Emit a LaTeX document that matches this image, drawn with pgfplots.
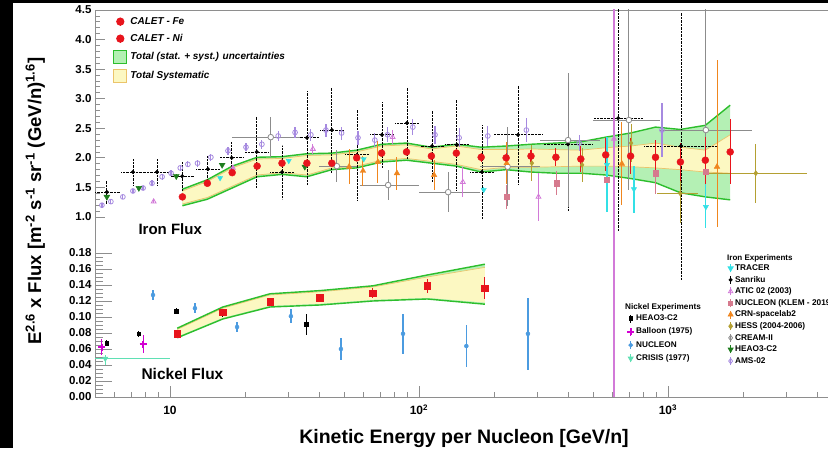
\documentclass[border=0pt]{standalone}
\usepackage{pgfplots}
\pgfplotsset{compat=1.18}
\usepackage{fontspec}
\setmainfont{Liberation Sans}
\definecolor{calred}{HTML}{E8141C}
\definecolor{gfill}{HTML}{B4F0B4}
\definecolor{gline}{HTML}{2DBE2D}
\definecolor{yfill}{HTML}{FCF8C2}
\definecolor{yline}{HTML}{EBC46A}
\definecolor{tracer}{HTML}{33E0E6}
\definecolor{atic}{HTML}{D27AD8}
\definecolor{klem}{HTML}{D67A8E}
\definecolor{crn}{HTML}{F0861E}
\definecolor{hess}{HTML}{B4A032}
\definecolor{cream}{HTML}{8C8C8C}
\definecolor{heao}{HTML}{1E7D1E}
\definecolor{ams}{HTML}{A68AE0}
\definecolor{balloon}{HTML}{D200D2}
\definecolor{nucni}{HTML}{4B9BE0}
\definecolor{crisis}{HTML}{5FE0B4}
\definecolor{framegray}{HTML}{8E8E8E}
\pgfplotsset{
  barleg/.style={legend image code/.code={\draw[##1,mark=none,solid] (0pt,-4pt) -- (0pt,4pt); \draw[##1,solid] plot coordinates {(0pt,0pt)};}},
  boxleg/.style={legend image code/.code={\draw[##1] (-6.5pt,-6.5pt) rectangle (6.5pt,6.5pt);}},
}
\begin{document}
\begin{tikzpicture}[x=1pt,y=1pt]
\fill[white] (0,0) rectangle (828,448);
\path[use as bounding box] (0,0) rectangle (828,448);
\clip (0,0) rectangle (828,448);
\fill[black] (0,0) rectangle (13,448);
\fill[black] (0,444.7) rectangle (828,448);

% ---------- frame, x ticks, CALET legend
\begin{axis}[at={(95pt,51pt)}, anchor=south west, scale only axis, width=747pt, height=387pt,
  xmode=log, xmin=5, xmax=5000, ymin=0, ymax=1, ytick=\empty,
  xtick={10,100,1000}, xticklabels={10,10\textsuperscript{2},10\textsuperscript{3}},
  minor xtick={6,7,8,9,20,30,40,50,60,70,80,90,200,300,400,500,600,700,800,900,2000,3000,4000},
  xtick pos=left, major tick length=11pt, minor tick length=5.5pt,
  tick style={framegray, line width=0.8pt},
  axis line style={framegray, line width=0.8pt},
  xticklabel style={font=\bfseries\fontsize{12}{12}\selectfont, anchor=base, yshift=-17.5pt},
  legend style={at={(0.0241,0.986)}, anchor=north west, draw=none, fill=none, inner sep=0pt,
    row sep=5pt, column sep=2pt, font=\bfseries\itshape\fontsize{10}{12}\selectfont,
    nodes={inner sep=1pt, text height=7.5pt, text depth=2.5pt}},
  legend cell align=left]
\addplot[draw=none, forget plot] coordinates {(10,0.5)};
\addlegendimage{calred, mark=*, mark size=3.5pt, line width=1.2pt, barleg}
\addlegendentry{CALET - Fe}
\addlegendimage{calred, mark=*, mark size=3.5pt, line width=1.2pt, barleg}
\addlegendentry{CALET - Ni}
\addlegendimage{boxleg, fill=gfill, draw=gline, line width=1.2pt}
\addlegendentry{Total (stat. + syst.) uncertainties}
\addlegendimage{boxleg, fill=yfill, draw=yline, line width=0.8pt}
\addlegendentry{Total Systematic}
\end{axis}

% ---------- upper panel: iron
\begin{axis}[at={(95pt,51pt)}, anchor=south west, scale only axis, width=747pt, height=387pt,
  xmode=log, xmin=5, xmax=5000, ymin=-2.0436, ymax=4.5, xtick=\empty, axis line style={draw=none},
  ytick={1,1.5,2,2.5,3,3.5,4,4.5}, minor y tick num=4, ytick pos=left,
  major tick length=10pt, minor tick length=5pt, tick style={framegray, line width=0.8pt},
  /pgf/number format/assume math mode=true,
  yticklabel style={font=\bfseries\fontsize{11.5}{12}\selectfont, /pgf/number format/.cd, fixed, fixed zerofill, precision=1},
  legend style={at={(0.8474,0.3457)}, anchor=north west, draw=none, fill=none, inner sep=0pt,
    row sep=1.9pt, column sep=1pt, font=\bfseries\fontsize{8.3}{9}\selectfont,
    nodes={inner sep=1pt, text height=6pt, text depth=1.7pt}},
  legend cell align=left]
\addlegendimage{tracer, mark=triangle*, mark size=2.8pt, mark options={rotate=180}, line width=1pt, barleg}
\addlegendentry{TRACER}
\addlegendimage{black, mark=*, mark size=1.6pt, line width=0.8pt, barleg}
\addlegendentry{Sanriku}
\addlegendimage{atic, mark=triangle, mark size=2.6pt, line width=0.8pt, barleg}
\addlegendentry{ATIC 02 (2003)}
\addlegendimage{klem, mark=square*, mark size=2pt, line width=0.8pt, barleg}
\addlegendentry{NUCLEON (KLEM - 2019)}
\addlegendimage{crn, mark=triangle*, mark size=2.8pt, line width=0.8pt, barleg}
\addlegendentry{CRN-spacelab2}
\addlegendimage{hess, mark=diamond*, mark size=2.5pt, line width=0.8pt, barleg}
\addlegendentry{HESS (2004-2006)}
\addlegendimage{cream, mark=diamond, mark size=2.6pt, line width=0.8pt, barleg}
\addlegendentry{CREAM-II}
\addlegendimage{heao, mark=triangle*, mark size=2.8pt, mark options={rotate=180}, line width=0.8pt, barleg}
\addlegendentry{HEAO3-C2}
\addlegendimage{ams, mark=diamond, mark size=2.6pt, line width=0.8pt, barleg}
\addlegendentry{AMS-02}

% total uncertainty band
\addplot[fill=gfill, draw=none] coordinates {(11.22,1.47)(14.13,1.63)(17.78,1.86)(22.39,2.01)(28.18,2.02)(35.48,2.07)(44.67,2.08)(56.23,2.13)(70.79,2.23)(89.13,2.25)(112.2,2.18)(141.3,2.23)(177.8,2.18)(223.9,2.20)(281.8,2.23)(354.8,2.25)(446.7,2.27)(562.3,2.35)(707.9,2.42)(891.3,2.52)(1122,2.48)(1413,2.55)(1778,2.89)
 (1778,1.29)(1413,1.34)(1122,1.41)(891.3,1.58)(707.9,1.65)(562.3,1.71)(446.7,1.74)(354.8,1.74)(281.8,1.76)(223.9,1.80)(177.8,1.76)(141.3,1.86)(112.2,1.91)(89.13,1.96)(70.79,1.93)(56.23,1.83)(44.67,1.80)(35.48,1.68)(28.18,1.72)(22.39,1.68)(17.78,1.49)(14.13,1.30)(11.22,1.19)};
\addplot[fill=yfill, draw=none] coordinates {(11.22,1.44)(14.13,1.60)(17.78,1.83)(22.39,1.98)(28.18,1.99)(35.48,2.04)(44.67,2.05)(56.23,2.10)(70.79,2.20)(89.13,2.22)(112.2,2.15)(141.3,2.20)(177.8,2.14)(223.9,2.14)(281.8,2.15)(354.8,2.14)(446.7,2.13)(562.3,2.17)(707.9,2.20)(891.3,2.25)(1122,2.18)(1413,2.13)(1778,2.39)
 (1778,1.74)(1413,1.76)(1122,1.80)(891.3,1.83)(707.9,1.85)(562.3,1.86)(446.7,1.86)(354.8,1.85)(281.8,1.84)(223.9,1.84)(177.8,1.80)(141.3,1.89)(112.2,1.94)(89.13,1.99)(70.79,1.96)(56.23,1.86)(44.67,1.83)(35.48,1.71)(28.18,1.75)(22.39,1.71)(17.78,1.52)(14.13,1.33)(11.22,1.22)};
\addplot[yline, line width=0.7pt] coordinates {(11.22,1.44)(14.13,1.60)(17.78,1.83)(22.39,1.98)(28.18,1.99)(35.48,2.04)(44.67,2.05)(56.23,2.10)(70.79,2.20)(89.13,2.22)(112.2,2.15)(141.3,2.20)(177.8,2.14)(223.9,2.14)(281.8,2.15)(354.8,2.14)(446.7,2.13)(562.3,2.17)(707.9,2.20)(891.3,2.25)(1122,2.18)(1413,2.13)(1778,2.39)};
\addplot[yline, line width=0.7pt] coordinates {(11.22,1.22)(14.13,1.33)(17.78,1.52)(22.39,1.71)(28.18,1.75)(35.48,1.71)(44.67,1.83)(56.23,1.86)(70.79,1.96)(89.13,1.99)(112.2,1.94)(141.3,1.89)(177.8,1.80)(223.9,1.84)(281.8,1.84)(354.8,1.85)(446.7,1.86)(562.3,1.86)(707.9,1.85)(891.3,1.83)(1122,1.80)(1413,1.76)(1778,1.74)};
\addplot[gline, line width=1.4pt] coordinates {(11.22,1.47)(14.13,1.63)(17.78,1.86)(22.39,2.01)(28.18,2.02)(35.48,2.07)(44.67,2.08)(56.23,2.13)(70.79,2.23)(89.13,2.25)(112.2,2.18)(141.3,2.23)(177.8,2.18)(223.9,2.20)(281.8,2.23)(354.8,2.25)(446.7,2.27)(562.3,2.35)(707.9,2.42)(891.3,2.52)(1122,2.48)(1413,2.55)(1778,2.89)};
\addplot[gline, line width=1.4pt] coordinates {(11.22,1.19)(14.13,1.30)(17.78,1.49)(22.39,1.68)(28.18,1.72)(35.48,1.68)(44.67,1.80)(56.23,1.83)(70.79,1.93)(89.13,1.96)(112.2,1.91)(141.3,1.86)(177.8,1.76)(223.9,1.80)(281.8,1.76)(354.8,1.74)(446.7,1.74)(562.3,1.71)(707.9,1.65)(891.3,1.58)(1122,1.41)(1413,1.34)(1778,1.29)};

% Sanriku
\addplot[only marks, black, mark=*, mark size=1.8pt, error bars/.cd, y dir=both, y explicit, x dir=both, x explicit, error mark=none, error bar style={black, densely dotted, line width=0.8pt}] coordinates {
(5.58,1.42) += (0.72,0.21) -= (0.58,0.21)
(7.1,1.76) += (0.87,0.23) -= (0.77,0.23)
(8.87,1.76) += (1.08,0.23) -= (0.97,0.23)
(11.2,1.69) += (1.37,0.24) -= (1.22,0.24)
(14.2,1.81) += (1.73,0.22) -= (1.55,0.22)
(17.7,2.00) += (2.16,0.27) -= (1.93,0.27)
(22.3,2.10) += (2.72,0.60) -= (2.43,0.60)
(28.2,1.76) += (3.44,0.45) -= (3.07,0.45)
(35.5,2.34) += (4.33,0.80) -= (3.87,0.80)
(44.7,2.47) += (5.45,0.72) -= (4.87,0.72)
(56.4,2.05) += (6.88,0.78) -= (6.15,0.78)
(71,2.39) += (8.66,0.55) -= (7.74,0.55)
(89.5,2.59) += (10.9,0.60) -= (9.76,0.60)
(113,2.20) += (13.8,0.60) -= (12.3,0.60)
(142,2.22) += (17.3,0.76) -= (15.5,0.76)
(179,1.76) += (21.8,0.80) -= (19.5,0.80)
(250,2.39) += (64.8,0.83) -= (51.5,0.83)
(397,2.23) += (103,1.13) -= (82,1.13)
(631,2.67) += (163,1.90) -= (130,1.90)
(1128,2.20) += (466,2.25) -= (329,2.25)};

% CREAM-II
\addplot[only marks, cream, mark=*, mark size=2.8pt, mark options={fill=white, draw=cream, line width=0.8pt}, error bars/.cd, y dir=both, y explicit, x dir=both, x explicit, error mark=none, error bar style={cream, line width=0.9pt}] coordinates {
(25.4,2.35) += (7.9,0.34) -= (7.7,0.34)
(46.8,1.86) += (9.6,0.27) -= (7.1,0.27)
(75.2,1.54) += (24.8,0.25) -= (17.3,0.25)
(131,1.42) += (45,0.34) -= (31,0.34)
(227,1.85) += (80,0.67) -= (51,0.67)
(397,2.30) += (138,1.13) -= (90,1.13)
(697,2.64) += (233,1.90) -= (197,1.18)
(1420,2.47) += (760,2.10) -= (490,1.30)};

% AMS-02
\addplot[only marks, ams, mark=o, mark size=2.4pt, mark options={line width=0.8pt}, error bars/.cd, y dir=both, y explicit, error mark=none, error bar style={ams, line width=1.2pt}] coordinates {
(5.33,1.20) +- (0,0.04) (5.79,1.26) +- (0,0.04) (6.47,1.34) +- (0,0.04) (7.1,1.44) +- (0,0.04)
(7.8,1.49) +- (0,0.04) (8.47,1.57) +- (0,0.05) (9.3,1.68) +- (0,0.05) (10.1,1.74) +- (0,0.05)
(11.0,1.83) +- (0,0.05) (11.8,1.89) +- (0,0.05) (12.9,1.91) +- (0,0.06) (14.6,2.01) +- (0,0.06)
(17.1,2.12) +- (0,0.07) (20.2,2.18) +- (0,0.07) (23.4,2.23) +- (0,0.08) (27.2,2.37) +- (0,0.09)
(31.8,2.43) +- (0,0.10) (36.8,2.39) +- (0,0.10) (42.3,2.47) +- (0,0.11) (48.9,2.42) +- (0,0.11)
(56.9,2.34) +- (0,0.12) (66.5,2.30) +- (0,0.12) (74.8,2.39) +- (0,0.13) (94.5,2.52) +- (0,0.14)
(116,2.39) +- (0,0.15) (145,2.34) +- (0,0.16) (189,2.37) +- (0,0.17) (270,2.47) +- (0,0.20)
(440,2.25) +- (0,0.13) (946,2.47) +- (0,0.45)};

% ATIC-02
\addplot[only marks, atic, mark=triangle, mark size=2.8pt, mark options={line width=0.8pt}, error bars/.cd, y dir=both, y explicit, error mark=none, error bar style={atic, line width=1.2pt}] coordinates {
(8.6,1.26) +- (0,0.03) (17.9,1.83) +- (0,0.04) (37.5,2.15) +- (0,0.08) (78.4,2.35) +- (0,0.12)
(150,1.59) +- (0,0.25) (302,1.34) +- (0,0.40)};
\addplot[only marks, atic, mark=triangle, mark size=2.8pt, mark options={line width=0.8pt}, error bars/.cd, y dir=both, y explicit, error mark=none, error bar style={atic, line width=2pt}] coordinates {
(607,2.32) +- (0,8)};

% NUCLEON (KLEM)
\addplot[only marks, klem, mark=square*, mark size=2.6pt, error bars/.cd, y dir=both, y explicit, error mark=none, error bar style={klem, line width=1pt}] coordinates {
(225,1.34) +- (0,0.20) (358,1.57) +- (0,0.20) (569,1.63) +- (0,0.30) (894,1.74) +- (0,0.35) (1420,1.76) +- (0,0.35)};

% CRN
\addplot[only marks, crn, mark=triangle*, mark size=3.2pt, error bars/.cd, y dir=both, y explicit, error mark=none, error bar style={crn, line width=1pt}] coordinates {
(52.4,1.85) +- (0,0.30) (59.6,1.78) +- (0,0.25) (68.4,1.93) +- (0,0.35) (81.6,1.74) +- (0,0.28)
(115,1.71) +- (0,0.25) (225,1.91) +- (0,0.35) (653,1.90) +- (0,0.70)
(1574,1.85) += (0,1.80) -= (0,1.02)};

% HESS
\addplot[only marks, hess, mark=diamond*, mark size=2.6pt, error bars/.cd, y dir=both, y explicit, x dir=both, x explicit, error mark=none, error bar style={hess, line width=1pt}] coordinates {
(284,1.91) +- (0,0.30) (452,1.88) +- (0,0.28) (711,2.25) +- (0,0.32)
(1120,1.40) += (198,0.30) -= (217,0.50)
(2253,1.74) += (1361,0.50) -= (817,0.50)};

% TRACER
\addplot[only marks, tracer, mark=triangle*, mark size=3pt, mark options={rotate=180}, error bars/.cd, y dir=both, y explicit, error mark=none, error bar style={tracer, line width=1.2pt}] coordinates {
(15.9,1.66) +- (0,0.03) (30,1.95) +- (0,0.03) (60,1.98) +- (0,0.04) (182,1.46) +- (0,0.05)
(569,1.88) += (0,0.47) -= (0,0.80) (730,1.47) +- (0,0.40) (1420,1.17) += (0,0.60) -= (0,0.36)};

% HEAO3-C2 iron
\addplot[only marks, heao, mark=triangle*, mark size=3.4pt, mark options={rotate=180}, error bars/.cd, y dir=both, y explicit, error mark=none, error bar style={heao, line width=1pt}] coordinates {
(5.58,1.34) +- (0,0.04) (7.5,1.49) +- (0,0.04) (10.6,1.69) +- (0,0.04) (16.2,1.88) +- (0,0.04) (34.8,1.85) +- (0,0.05)};

% CALET Fe
\addplot[only marks, calred, mark=*, mark size=3.5pt, error bars/.cd, y dir=both, y explicit, error mark=none, error bar style={calred, line width=1.2pt}] coordinates {
(11.22,1.34) +- (0,0.02) (14.13,1.57) +- (0,0.02) (17.78,1.75) +- (0,0.03) (22.39,1.86) +- (0,0.03)
(28.18,1.91) +- (0,0.03) (35.48,1.91) +- (0,0.03) (44.67,1.91) +- (0,0.04) (56.23,2.00) +- (0,0.04)
(70.79,2.08) +- (0,0.05) (89.13,2.10) +- (0,0.05) (112.2,2.03) +- (0,0.06) (141.3,2.08) +- (0,0.07)
(177.8,2.01) +- (0,0.08) (223.9,2.00) +- (0,0.09) (281.8,2.03) +- (0,0.10) (354.8,2.01) +- (0,0.15)
(446.7,1.98) +- (0,0.22) (562.3,2.05) +- (0,0.28) (707.9,2.03) +- (0,0.30) (891.3,2.01) +- (0,0.30)
(1122,1.93) +- (0,0.32) (1413,1.96) +- (0,0.40) (1778,2.10) +- (0,0.55)};
\end{axis}

% ---------- lower panel: nickel
\begin{axis}[at={(95pt,51pt)}, anchor=south west, scale only axis, width=747pt, height=387pt,
  xmode=log, xmin=5, xmax=5000, ymin=0, ymax=0.48375, xtick=\empty, axis line style={draw=none},
  ytick={0,0.02,0.04,0.06,0.08,0.10,0.12,0.14,0.16,0.18}, minor y tick num=3, ytick pos=left,
  major tick length=17pt, minor tick length=8pt, tick style={framegray, line width=0.8pt},
  /pgf/number format/assume math mode=true,
  yticklabel style={font=\bfseries\fontsize{11.5}{12}\selectfont, /pgf/number format/.cd, fixed, fixed zerofill, precision=2},
  legend style={at={(0.7122,0.2158)}, anchor=north west, draw=none, fill=none, inner sep=0pt,
    row sep=3.6pt, column sep=1pt, font=\bfseries\fontsize{8.2}{9}\selectfont,
    nodes={inner sep=1pt, text height=6pt, text depth=1.7pt}},
  legend cell align=left]
\addlegendimage{black, mark=square*, mark size=1.8pt, line width=0.8pt, barleg}
\addlegendentry{HEAO3-C2}
\addlegendimage{balloon, mark=+, mark size=3.5pt, mark options={line width=2pt}, line width=0.8pt, barleg}
\addlegendentry{Balloon (1975)}
\addlegendimage{nucni, mark=*, mark size=1.8pt, line width=1pt, barleg}
\addlegendentry{NUCLEON}
\addlegendimage{crisis, mark=triangle*, mark size=2.8pt, mark options={rotate=180}, line width=0.8pt, barleg}
\addlegendentry{CRISIS (1977)}

\addplot[fill=gfill, draw=none] coordinates {(10.7,0.086)(16.3,0.1125)(25.2,0.129)(40,0.133)(65.3,0.139)(108,0.1525)(184,0.166)
 (184,0.116)(108,0.1225)(65.3,0.120)(40,0.115)(25.2,0.1125)(16.3,0.0975)(10.7,0.074)};
\addplot[fill=yfill, draw=none] coordinates {(10.7,0.0845)(16.3,0.111)(25.2,0.1275)(40,0.1315)(65.3,0.1375)(108,0.150)(184,0.162)
 (184,0.118)(108,0.124)(65.3,0.1215)(40,0.1165)(25.2,0.114)(16.3,0.099)(10.7,0.0755)};
\addplot[yline, line width=0.6pt] coordinates {(10.7,0.0845)(16.3,0.111)(25.2,0.1275)(40,0.1315)(65.3,0.1375)(108,0.150)(184,0.162)};
\addplot[gline, line width=1.4pt] coordinates {(10.7,0.086)(16.3,0.1125)(25.2,0.129)(40,0.133)(65.3,0.139)(108,0.1525)(184,0.166)};
\addplot[gline, line width=1.4pt] coordinates {(10.7,0.074)(16.3,0.0975)(25.2,0.1125)(40,0.115)(65.3,0.120)(108,0.1225)(184,0.116)};

% CRISIS
\addplot[only marks, crisis, mark=triangle*, mark size=3pt, mark options={rotate=180}, error bars/.cd, y dir=both, y explicit, x dir=both, x explicit, error mark=none, error bar style={crisis, line width=1.3pt}] coordinates {
(5.5,0.048) += (4.5,0.005) -= (1.0,0.008)};
% NUCLEON Ni
\addplot[only marks, nucni, mark=*, mark size=2pt, error bars/.cd, y dir=both, y explicit, error mark=none, error bar style={nucni, line width=1.3pt}] coordinates {
(8.55,0.1275) +- (0,0.006) (12.6,0.111) +- (0,0.006) (18.6,0.0875) +- (0,0.006) (30.6,0.101) +- (0,0.009)
(48.6,0.060) +- (0,0.014) (86.3,0.079) +- (0,0.025) (155,0.0637) +- (0,0.026) (274,0.079) +- (0,0.045)};
% HEAO3-C2 Ni
\addplot[only marks, black, mark=square*, mark size=1.8pt, error bars/.cd, y dir=both, y explicit, error mark=none, error bar style={black, line width=1pt}] coordinates {
(5.58,0.0675) +- (0,0.004) (7.5,0.079) +- (0,0.004) (10.6,0.1075) +- (0,0.004) (16.2,0.104) +- (0,0.004) (35.2,0.091) +- (0,0.013)};
% Balloon
\addplot[only marks, balloon, mark=+, mark size=3.5pt, mark options={line width=2pt}, error bars/.cd, y dir=both, y explicit, error mark=none, error bar style={balloon, line width=1pt}] coordinates {
(5.33,0.0625) +- (0,0.010) (7.8,0.066) +- (0,0.011)};
% CALET Ni
\addplot[only marks, calred, mark=square*, mark size=3.2pt, error bars/.cd, y dir=both, y explicit, error mark=none, error bar style={calred, line width=1.2pt}] coordinates {
(10.7,0.079) +- (0,0.003) (16.3,0.106) +- (0,0.004) (25.2,0.119) +- (0,0.003) (40,0.124) +- (0,0.004)
(65.3,0.130) +- (0,0.006) (108,0.139) +- (0,0.009) (184,0.136) +- (0,0.014)};
\end{axis}

% ---------- texts
\node[anchor=base west, font=\bfseries\fontsize{15}{15}\selectfont] at (135,213) {Iron Flux};
\node[anchor=base west, font=\bfseries\fontsize{15.5}{15.5}\selectfont] at (138,69) {Nickel Flux};
\node[anchor=base west, inner sep=0pt, font=\bfseries\fontsize{8}{9}\selectfont] at (727,187.5) {Iron Experiments};
\node[anchor=base west, inner sep=0pt, font=\bfseries\fontsize{8.2}{9}\selectfont] at (625,138.5) {Nickel Experiments};
\node[rotate=90, anchor=base, font=\bfseries\fontsize{18.5}{19}\selectfont] at (41,247) {E\textsuperscript{2.6} x Flux [m\textsuperscript{-2} s\textsuperscript{-1} sr\textsuperscript{-1} (GeV/n)\textsuperscript{1.6}]};
\node[anchor=base, font=\bfseries\fontsize{19.5}{20}\selectfont] at (464,5) {Kinetic Energy per Nucleon [GeV/n]};
\end{tikzpicture}
\end{document}
